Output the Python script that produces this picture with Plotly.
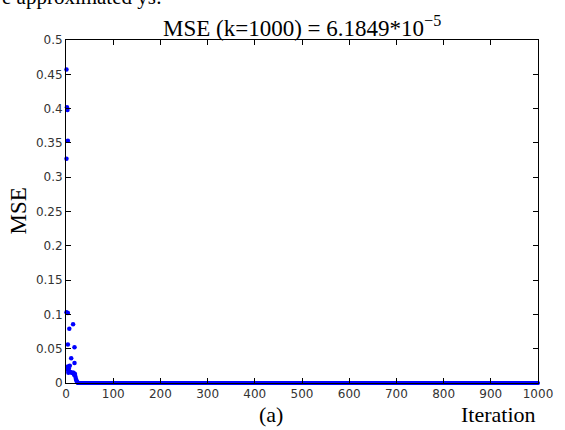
import plotly.graph_objects as go

# Early iterations (scattered transient)
early_iter = [1, 1, 2, 3, 4, 1, 4, 7, 15, 4, 18, 11, 18, 4, 8, 6, 5, 9, 12, 14, 16, 17, 19, 20, 21, 22, 23, 24, 25, 3, 5]
early_mse = [0.457, 0.327, 0.402, 0.398, 0.353, 0.103, 0.102, 0.079, 0.0855, 0.056, 0.052, 0.036, 0.029, 0.024, 0.025,
             0.021, 0.015, 0.016, 0.015, 0.015, 0.015, 0.012, 0.013, 0.009, 0.006, 0.004, 0.002, 0.001, 0.0005, 0.02, 0.018]

# Plateau: iterations 26..1000, MSE ~ 6.1849e-5
plateau_iter = list(range(26, 1001))
plateau_mse = [6.1849e-5] * len(plateau_iter)

x_ticks = [0, 100, 200, 300, 400, 500, 600, 700, 800, 900, 1000]
y_ticks = [0, 0.05, 0.1, 0.15, 0.2, 0.25, 0.3, 0.35, 0.4, 0.45, 0.5]
y_tick_text = ["0", "0.05", "0.1", "0.15", "0.2", "0.25", "0.3", "0.35", "0.4", "0.45", "0.5"]

fig = go.Figure()
fig.add_trace(go.Scatter(x=plateau_iter, y=plateau_mse, mode="markers",
                         marker=dict(color="#0000ff", size=4), cliponaxis=False, showlegend=False))
fig.add_trace(go.Scatter(x=early_iter, y=early_mse, mode="markers",
                         marker=dict(color="#0000ff", size=4.5), cliponaxis=False, showlegend=False))

axis_common = dict(showline=True, linecolor="black", linewidth=1, mirror="ticks", ticks="inside",
                   ticklen=5, tickcolor="black", showgrid=False, zeroline=False,
                   tickfont=dict(family="DejaVu Sans", size=12, color="#333333"))

fig.update_xaxes(range=[0, 1000], tickvals=x_ticks, **axis_common)
fig.update_yaxes(range=[0, 0.5], tickvals=y_ticks, ticktext=y_tick_text, **axis_common)

serif = "Liberation Serif, Times New Roman"
fig.update_layout(
    width=565, height=430,
    margin=dict(l=66, r=17, t=40, b=47),
    paper_bgcolor="white", plot_bgcolor="white",
    annotations=[
        dict(text="MSE (k=1000) = 6.1849*10<sup>−5</sup>", xref="paper", yref="paper", x=0.5, y=1.0,
             xanchor="center", yanchor="bottom", yshift=-3, showarrow=False,
             font=dict(family=serif, size=23, color="black")),
        dict(text="MSE", xref="paper", yref="paper", x=0, y=0.5, xshift=-48, xanchor="center", yanchor="middle",
             textangle=-90, showarrow=False, font=dict(family=serif, size=23, color="black")),
        dict(text="(a)", xref="paper", yref="paper", x=0.435, y=0, yshift=-31, xanchor="center", yanchor="middle",
             showarrow=False, font=dict(family=serif, size=22, color="black")),
        dict(text="Iteration", xref="paper", yref="paper", x=1.0, y=0, yshift=-31, xanchor="right", yanchor="middle",
             showarrow=False, font=dict(family=serif, size=22, color="black")),
        dict(text="e approximated ys:", xref="paper", yref="paper", x=0, xshift=-66, y=1, yshift=43,
             xanchor="left", yanchor="middle", showarrow=False, font=dict(family=serif, size=21, color="black")),
    ],
)

fig.write_html("out.html")
